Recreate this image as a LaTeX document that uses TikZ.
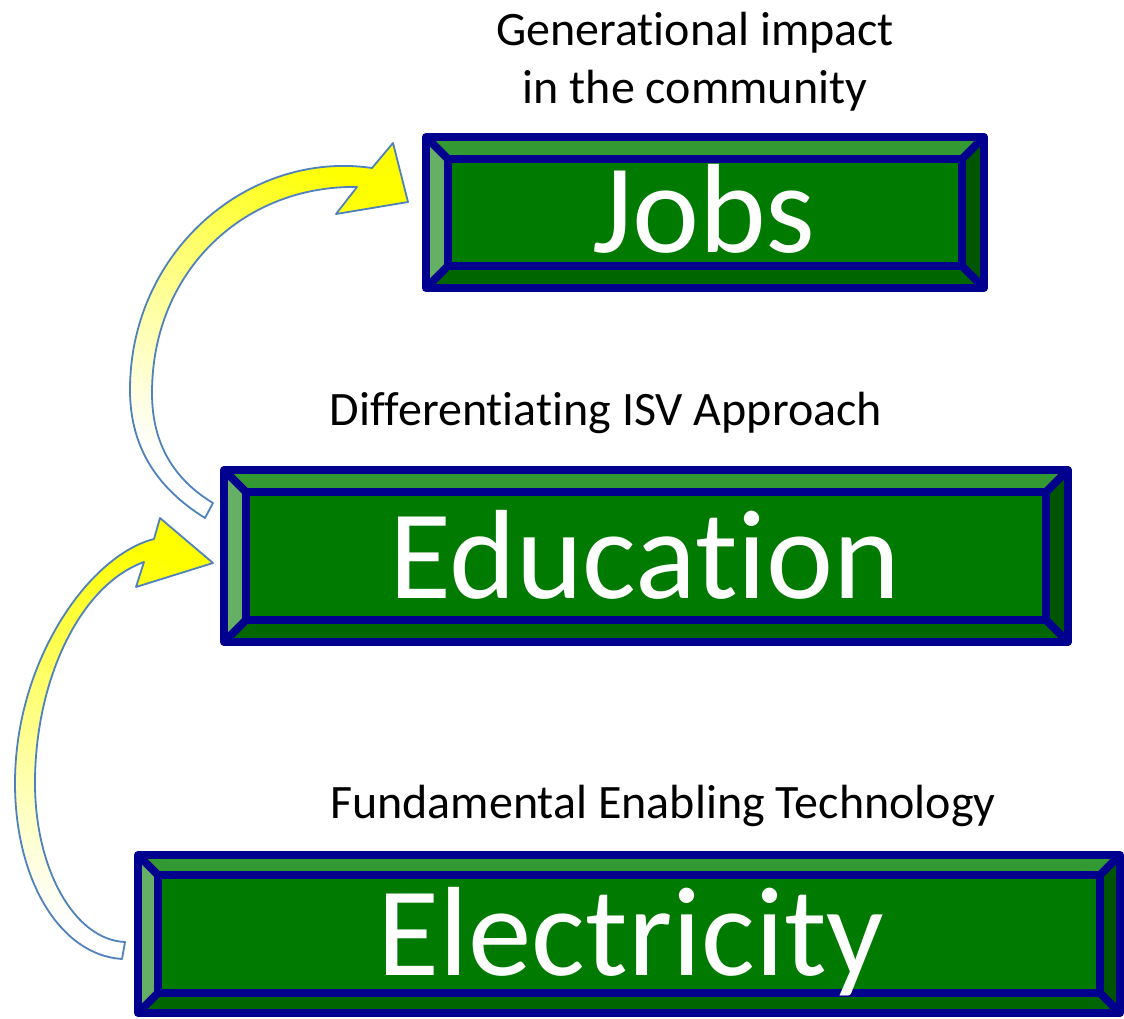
\documentclass[tikz,border=0pt]{standalone}
\usepackage{fontspec}
\setmainfont[RawFeature={-liga;-clig}]{Carlito}
\definecolor{bvblue}{RGB}{0,0,143}
\definecolor{bvleft}{RGB}{102,176,102}
\definecolor{bvtop}{RGB}{51,153,51}
\definecolor{bvright}{RGB}{0,85,0}
\definecolor{bvbottom}{RGB}{0,102,0}
\definecolor{bvface}{RGB}{0,122,0}
\definecolor{arrline}{RGB}{79,129,189}
\newcommand{\bevbox}[5]{%
  \pgfmathsetmacro\bxa{#1+#5}%
  \pgfmathsetmacro\bxb{#2+#5}%
  \pgfmathsetmacro\bxc{#3-#5}%
  \pgfmathsetmacro\bxd{#4-#5}%
  \fill[bvleft] (#1,#2) -- (\bxa,\bxb) -- (\bxa,\bxd) -- (#1,#4) -- cycle;
  \fill[bvtop] (#1,#2) -- (#3,#2) -- (\bxc,\bxb) -- (\bxa,\bxb) -- cycle;
  \fill[bvright] (#3,#2) -- (#3,#4) -- (\bxc,\bxd) -- (\bxc,\bxb) -- cycle;
  \fill[bvbottom] (#1,#4) -- (#3,#4) -- (\bxc,\bxd) -- (\bxa,\bxd) -- cycle;
  \fill[bvface] (\bxa,\bxb) rectangle (\bxc,\bxd);
  \draw[bvline] (#1,#2) rectangle (#3,#4);
  \draw[bvline] (\bxa,\bxb) rectangle (\bxc,\bxd);
  \draw[bvline] (#1,#2) -- (\bxa,\bxb) (#3,#2) -- (\bxc,\bxb)
                (#3,#4) -- (\bxc,\bxd) (#1,#4) -- (\bxa,\bxd);
}
\tikzset{
  bvline/.style={draw=bvblue, line width=8pt, line join=round},
  curvarrow/.style={draw=arrline, line width=1.8pt, line join=round,
    top color=yellow, middle color=yellow!25, bottom color=white},
  lbl/.style={inner sep=0pt, font=\fontsize{48}{57}\selectfont, text=black},
  bigword/.style={inner sep=0pt, font=\fontsize{127}{150}\selectfont, text=white}
}
\begin{document}
\begin{tikzpicture}[x=1pt,y=-1pt]
\useasboundingbox (0,0) rectangle (1124,1018);
% curved arrows
\shadedraw[curvarrow, shading angle=-35]
  (205,518) .. controls (160,490) and (130,450) .. (130,390)
  .. controls (130,250) and (250,150) .. (372,168)
  -- (393,143) -- (408,202) -- (336,214) -- (357,187)
  .. controls (245,185) and (152,270) .. (152,393)
  .. controls (152,445) and (175,480) .. (213,503) -- cycle;
\shadedraw[curvarrow, shading angle=-20]
  (122,959) .. controls (60,955) and (15,880) .. (15,783)
  .. controls (15,660) and (90,555) .. (154,539)
  -- (160,518) -- (213,563) -- (136,587) -- (144,562)
  .. controls (80,585) and (35,680) .. (35,783)
  .. controls (35,870) and (75,940) .. (125,942) -- cycle;
% boxes
\bevbox{426}{137}{984}{288}{22}
\bevbox{224}{470}{1068}{642}{22}
\bevbox{138}{855}{1120}{1013}{20}
% texts
\node[lbl, anchor=base] (gen1) at (695,45) {Generational impact};
\node[lbl, anchor=base] (gen2) at (695,103) {in the community};
\node[lbl, anchor=base] (diff) at (606,425) {Differentiating ISV Approach};
\node[lbl, anchor=base] (fund) at (663,818) {Fundamental Enabling Technology};
\node[bigword, anchor=base] (jobs) at (704,252) {Jobs};
\node[bigword, anchor=base] (edu) at (645,598) {Education};
\node[bigword, anchor=base] (elec) at (631,975) {Electricity};
\end{tikzpicture}
\end{document}
